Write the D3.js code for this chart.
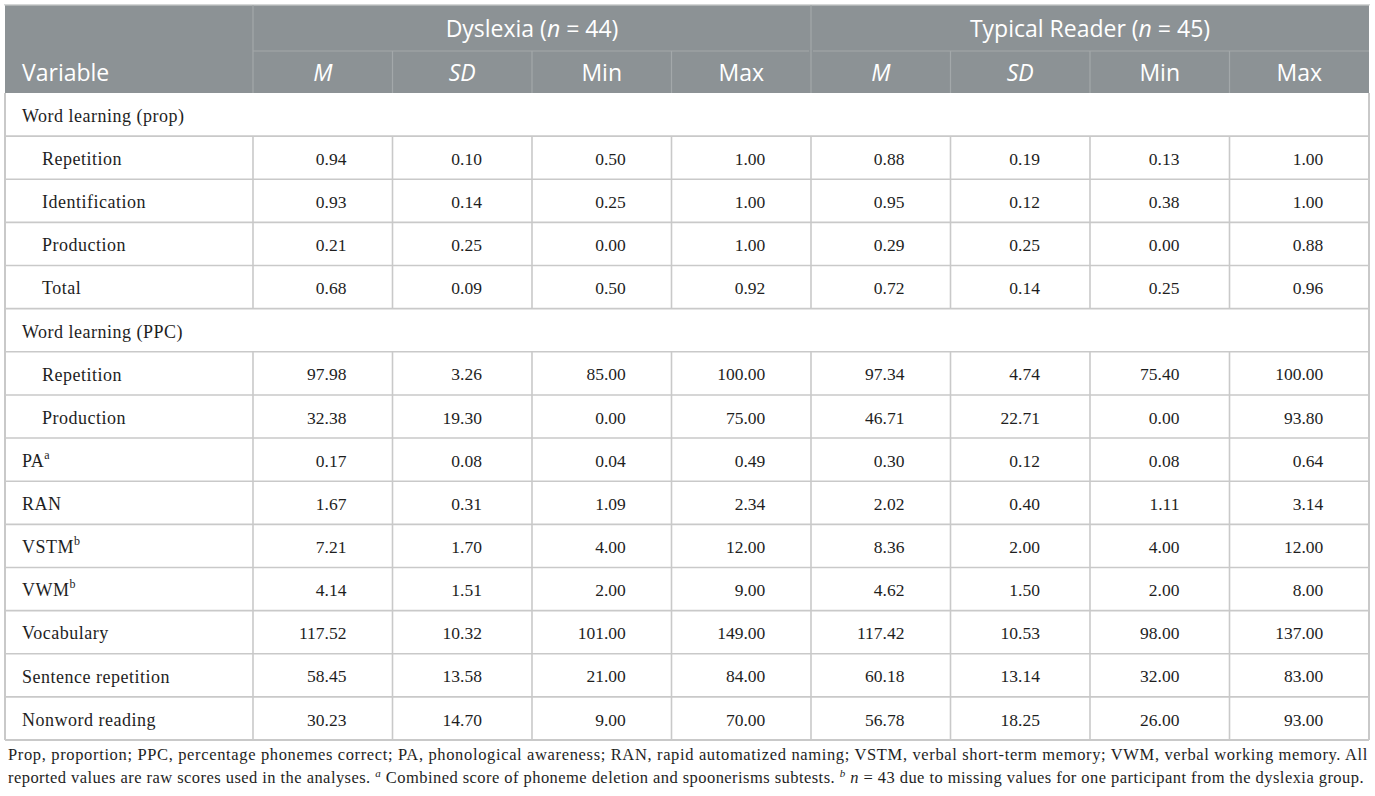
<!DOCTYPE html>
<html><head><meta charset="utf-8">
<script src="https://cdn.jsdelivr.net/npm/d3@7"></script>
<style>body{margin:0;background:#fff}</style>
</head><body>
<svg id="c" width="1375" height="796"></svg>
<script>
// ---- data ----
const rowLabels = ["Word learning (prop)","Repetition","Identification","Production","Total",
  "Word learning (PPC)","Repetition","Production","PA","RAN","VSTM","VWM","Vocabulary","Sentence repetition","Nonword reading"];
const rowType = ["group","indent","indent","indent","indent","group","indent","indent","item","item","item","item","item","item","item"];
const rowSup = ["","","","","","","","","a","","b","b","","",""];
const groups = ["Dyslexia", "Typical Reader"];
const groupN = [44, 45];
const statLabels = ["M","SD","Min","Max"];
const statItalic = [true,true,false,false];
const dysM   = [null,0.94,0.93,0.21,0.68,null,97.98,32.38,0.17,1.67,7.21,4.14,117.52,58.45,30.23];
const dysSD  = [null,0.10,0.14,0.25,0.09,null,3.26,19.30,0.08,0.31,1.70,1.51,10.32,13.58,14.70];
const dysMin = [null,0.50,0.25,0.00,0.50,null,85.00,0.00,0.04,1.09,4.00,2.00,101.00,21.00,9.00];
const dysMax = [null,1.00,1.00,1.00,0.92,null,100.00,75.00,0.49,2.34,12.00,9.00,149.00,84.00,70.00];
const trM    = [null,0.88,0.95,0.29,0.72,null,97.34,46.71,0.30,2.02,8.36,4.62,117.42,60.18,56.78];
const trSD   = [null,0.19,0.12,0.25,0.14,null,4.74,22.71,0.12,0.40,2.00,1.50,10.53,13.14,18.25];
const trMin  = [null,0.13,0.38,0.00,0.25,null,75.40,0.00,0.08,1.11,4.00,2.00,98.00,32.00,26.00];
const trMax  = [null,1.00,1.00,0.88,0.96,null,100.00,93.80,0.64,3.14,12.00,8.00,137.00,83.00,93.00];
const footLine1 = [["Prop, proportion; PPC, percentage phonemes correct; PA, phonological awareness; RAN, rapid automatized naming; VSTM, verbal short-term memory; VWM, verbal working memory. All",""]];
const footLine2 = [["reported values are raw scores used in the analyses. ",""],["a","sup"],[" Combined score of phoneme deletion and spoonerisms subtests. ",""],["b","sup"],[" ",""],["n","it"],[" = 43 due to missing values for one participant from the dyslexia group.",""]];

// ---- layout ----
const svg = d3.select("#c");
const L = 5, R = 1369, varW = 248;
const hTop = 5, hMid = 51, hBot = 93, tBot = 740;
const valueCols = [dysM,dysSD,dysMin,dysMax,trM,trSD,trMin,trMax];
const colIdx = d3.range(valueCols.length);
const x = d3.scaleBand().domain(colIdx).range([L+varW, R]);
const y = d3.scaleBand().domain(d3.range(rowLabels.length)).range([hBot, tBot]);
const fmt = d3.format(".2f");
const serif = "'Liberation Serif', 'Times New Roman', serif";
const sans = "'Open Sans', 'Noto Sans', sans-serif";
const border = "#c9c9c9";
const headBg = "#8c9295";
const ink = "#1e1e1e";

// header background
svg.append("rect").attr("x",L).attr("y",hTop).attr("width",R-L).attr("height",hBot-hTop).attr("fill",headBg);
svg.append("rect").attr("x",L-1).attr("y",hTop-1).attr("width",R-L+2).attr("height",1.5).attr("fill","#d4d6d6");

// header dividers
const hv = "#a3a8aa";
svg.append("line").attr("x1",L+varW).attr("x2",L+varW).attr("y1",hTop).attr("y2",hBot).attr("stroke",hv).attr("stroke-width",1.2);
groups.forEach((gname,gi)=>{
  const x0 = x(gi*4), x1 = x(gi*4+3)+x.bandwidth();
  svg.append("line").attr("x1",x0+(gi?2:0)).attr("x2",x1-(gi?0:2)).attr("y1",hMid).attr("y2",hMid).attr("stroke",hv).attr("stroke-width",1.2);
  if(gi>0) svg.append("line").attr("x1",x0).attr("x2",x0).attr("y1",hTop).attr("y2",hBot).attr("stroke",hv).attr("stroke-width",1.2);
  const t = svg.append("text").attr("x",(x0+x1)/2).attr("y",(hTop+hMid)/2+1).attr("dy","0.35em")
    .attr("text-anchor","middle").attr("fill","#fff").attr("font-family",sans).attr("font-size",23);
  t.append("tspan").text(gname+" (");
  t.append("tspan").attr("font-style","italic").text("n");
  t.append("tspan").text(" = "+groupN[gi]+")");
});
colIdx.forEach(c=>{
  if(c%4!==0) svg.append("line").attr("x1",x(c)).attr("x2",x(c)).attr("y1",hMid).attr("y2",hBot).attr("stroke",hv).attr("stroke-width",1.2);
  svg.append("text").attr("x",x(c)+x.bandwidth()/2).attr("y",(hMid+hBot)/2+1).attr("dy","0.35em")
    .attr("text-anchor","middle").attr("fill","#fff").attr("font-family",sans).attr("font-size",23)
    .attr("font-style",statItalic[c%4]?"italic":"normal").text(statLabels[c%4]);
});
svg.append("text").attr("x",L+17).attr("y",(hMid+hBot)/2+1).attr("dy","0.35em").attr("fill","#fff")
  .attr("font-family",sans).attr("font-size",23).text("Variable");

// body grid
const g = svg.append("g");
rowLabels.forEach((lab,i)=>{
  g.append("line").attr("x1",L).attr("x2",R).attr("y1",y(i)+y.bandwidth()).attr("y2",y(i)+y.bandwidth())
    .attr("stroke",border).attr("stroke-width",i===rowLabels.length-1?2:1.6);
  if(rowType[i]!=="group"){
    [L+varW].concat(colIdx.slice(1).map(c=>x(c))).forEach(xx=>{
      g.append("line").attr("x1",xx).attr("x2",xx).attr("y1",y(i)).attr("y2",y(i)+y.bandwidth()).attr("stroke",border).attr("stroke-width",1.6);
    });
  }
  const t = g.append("text").attr("x",L+(rowType[i]==="indent"?37:17)).attr("y",y(i)+y.bandwidth()/2+1).attr("dy","0.35em")
    .attr("font-family",serif).attr("font-size",18).attr("letter-spacing",0.5).attr("fill",ink).text(lab);
  if(rowSup[i]) t.append("tspan").attr("font-size",12).attr("dy","-0.7em").attr("letter-spacing",0).text(rowSup[i]);
});
g.append("line").attr("x1",L).attr("x2",L).attr("y1",hBot).attr("y2",tBot).attr("stroke",border).attr("stroke-width",2);
g.append("line").attr("x1",R).attr("x2",R).attr("y1",hBot).attr("y2",tBot).attr("stroke",border).attr("stroke-width",2);

// values: right-aligned so the widest entry is centered
colIdx.forEach(c=>{
  const vals = valueCols[c];
  const texts = [];
  vals.forEach((v,i)=>{
    if(v===null) return;
    texts.push(g.append("text").attr("y",y(i)+y.bandwidth()/2+1).attr("dy","0.35em")
      .attr("font-family",serif).attr("font-size",17.5).attr("fill",ink).attr("text-anchor","end").text(fmt(v)));
  });
  const maxW = d3.max(texts, t=>t.node().getComputedTextLength());
  texts.forEach(t=>t.attr("x",x(c)+x.bandwidth()/2+maxW/2));
});

// footnote, justified by spreading letters
function footnote(parts, yy, target){
  const t = svg.append("text").attr("x",L+3).attr("y",yy).attr("font-family",serif).attr("font-size",16.5).attr("fill",ink);
  parts.forEach(([s,k])=>{
    const ts = t.append("tspan").text(s);
    if(k==="sup"){ ts.attr("font-style","italic").attr("font-size",11).attr("baseline-shift","super"); }
    if(k==="it") ts.attr("font-style","italic");
  });
  const w = t.node().getComputedTextLength();
  const n = parts.map(p=>p[0]).join("").length;
  t.attr("letter-spacing",(target-w)/n);
}
footnote(footLine1, 760, R-L-4);
footnote(footLine2, 783, R-L-8);
</script>
</body></html>
